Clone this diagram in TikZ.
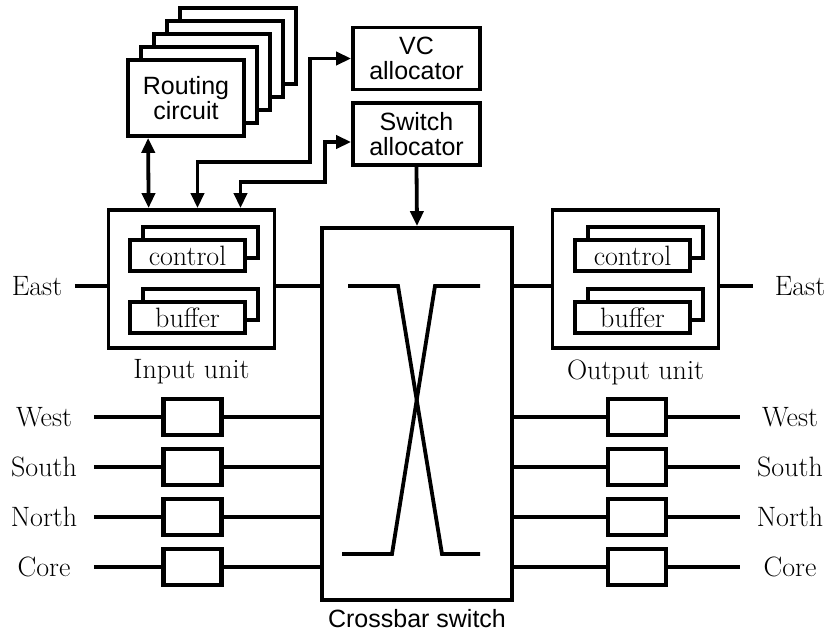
\documentclass[tikz,border=0pt]{standalone}
\usepackage{fontspec}
\setsansfont{Liberation Sans}
\usepackage{tikz}
\usetikzlibrary{positioning,arrows.meta,calc}

\begin{document}
\begin{tikzpicture}[x=1pt,y=-1pt, line width=3.8pt,
  every node/.style={font=\fontsize{28}{30}\selectfont},
  blk/.style={draw, fill=white, inner sep=0pt, align=center,
              font=\sffamily\fontsize{25}{25}\selectfont},
  rbox/.style={blk, minimum width=116pt, minimum height=76pt},
  alloc/.style={blk, minimum width=127pt, minimum height=62pt},
  unit/.style={draw, fill=white, minimum width=166pt, minimum height=138pt},
  ibox/.style={draw, fill=white, line width=3.2pt, minimum width=115pt,
               minimum height=31pt, inner sep=0pt},
  vcbuf/.style={draw, fill=white, line width=4.5pt, minimum width=58pt,
                minimum height=36pt, inner sep=0pt},
  port/.style={inner sep=0pt, minimum width=96pt, minimum height=30pt},
  dlink/.style={{Triangle[length=15pt,width=13pt]}-{Triangle[length=15pt,width=13pt]}},
  link/.style={-{Triangle[length=15pt,width=13pt]}},
]
  \useasboundingbox (0,0) rectangle (828,632);

  % Routing circuits (stacked)
  \foreach \i in {4,3,2,1}
    \node[rbox] (routing\i) at (186+13*\i, 98-13*\i) {};
  \node[rbox] (routing) at (186,98) {Routing\\circuit};

  % Allocators
  \node[alloc] (vc) at (416.5,58.5) {VC\\allocator};
  \node[alloc] (swalloc) at (416.5,134) {Switch\\allocator};

  % Input unit
  \node[unit] (inunit) at (191.5,279) {};
  \node[ibox] (inctrlb) at (200.5,242.5) {};
  \node[ibox] (inctrl) at (187.5,255.5) {control};
  \node[ibox] (inbufb) at (200.5,304.5) {};
  \node[ibox] (inbuf) at (187.5,317.5) {buffer};
  \node (inlabel) at (191.5,372) {Input unit};

  % Output unit
  \node[unit] (outunit) at (635.5,279) {};
  \node[ibox] (outctrlb) at (645.5,242.5) {};
  \node[ibox] (outctrl) at (632.5,255.5) {control};
  \node[ibox] (outbufb) at (645.5,304.5) {};
  \node[ibox] (outbuf) at (632.5,317.5) {buffer};
  \node (outlabel) at (635.5,372) {Output unit};

  % Crossbar switch
  \node[draw, fill=white, minimum width=190pt, minimum height=372pt] (xbar) at (417,414) {};
  \node[font=\sffamily\fontsize{25}{25}\selectfont] (xlabel) at (417,619) {Crossbar switch};
  \draw (348,286) -- (398,286) -- (442,554) -- (480,554);
  \draw (480,286) -- (435,286) -- (392,554) -- (342,554);

  % East ports
  \node[port, minimum width=72pt] (eastin) at (37,286) {East};
  \node[port, minimum width=90pt] (eastout) at (800,286) {East};
  \draw (eastin.east) -- (eastin -| inunit.west);
  \draw (inunit.east |- eastin) -- (eastin -| xbar.west);
  \draw (xbar.east |- eastout) -- (eastout -| outunit.west);
  \draw (outunit.east |- eastout) -- (eastout.west);

  % Other ports
  \foreach \name/\y in {West/417,South/467,North/517,Core/567} {
    \node[port] (in\name) at (44,\y) {\name};
    \node[vcbuf] (ib\name) at (192.5,\y) {};
    \node[port] (out\name) at (790,\y) {\name};
    \node[vcbuf] (ob\name) at (637,\y) {};
    \draw (in\name.east) -- (ib\name.west);
    \draw (ib\name.east) -- (ib\name -| xbar.west);
    \draw (ob\name -| xbar.east) -- (ob\name.west);
    \draw (ob\name.east) -- (out\name.west);
  }

  % Control paths
  \draw[dlink] ($(routing.south west)+(22,0)$) -- ($(inunit.north west)+(42,0)$);
  \draw[dlink] (vc.west) -| (310,162) -| ($(inunit.north)+(6,0)$);
  \draw[dlink] ($(swalloc.west)+(0,8)$) -| (325,182) -| ($(inunit.north)+(49,0)$);
  \draw[link] (swalloc.south) -- (xbar.north);
\end{tikzpicture}
\end{document}
